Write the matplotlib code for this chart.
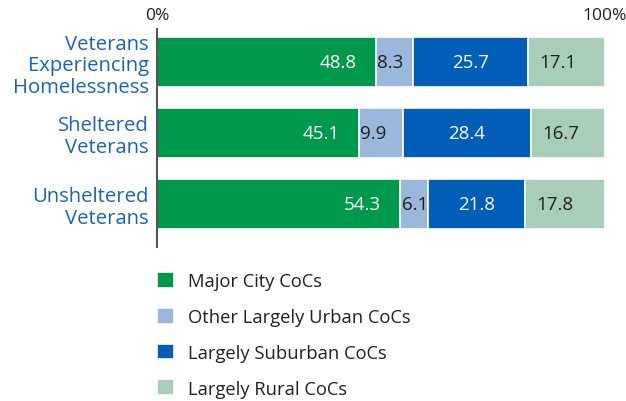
import matplotlib.pyplot as plt
import numpy as np

plt.rcParams['font.family'] = ['Open Sans', 'DejaVu Sans']

groups = ['Veterans\nExperiencing\nHomelessness', 'Sheltered\nVeterans', 'Unsheltered\nVeterans']
series = ['Major City CoCs', 'Other Largely Urban CoCs', 'Largely Suburban CoCs', 'Largely Rural CoCs']
major_city = [48.8, 45.1, 54.3]
other_urban = [8.3, 9.9, 6.1]
suburban = [25.7, 28.4, 21.8]
rural = [17.1, 16.7, 17.8]

colors = ['#00984a', '#9bb8dc', '#005eb8', '#a8cdb8']
text_colors = ['white', '#231f20', 'white', '#231f20']
# where each label sits inside its segment
aligns = ['right', 'left', 'center', 'left']

fig = plt.figure(figsize=(6.26, 4.02), dpi=100)
ax = fig.add_axes([157 / 626, 1 - 248 / 402, 448 / 626, 218 / 402])

y = np.arange(len(groups))
left = np.zeros(len(groups))
bars = []
for vals, c, tc, al in zip([major_city, other_urban, suburban, rural], colors, text_colors, aligns):
    vals = np.asarray(vals)
    b = ax.barh(y, vals, left=left, height=0.70, color=c, edgecolor='white', linewidth=1.2)
    bars.append(b)
    for yi, l, v in zip(y, left, vals):
        if al == 'right':
            xt = l + v - 4.3
        elif al == 'left':
            xt = l + (0.3 if v < 12 else 2.5)
        else:
            xt = l + v / 2
        ax.text(xt, yi, f'{v:.1f}', ha=al, va='center', color=tc, fontsize=13.5)
    left = left + vals

ax.set_xlim(0, 100)
ax.set_ylim(2.606, -0.465)
ax.set_yticks(y, groups, color='#1a63b8', fontsize=14.6, linespacing=1.13)
ax.set_xticks([0, 100], ['0%', '100%'], fontsize=12.5, color='#231f20')
ax.xaxis.tick_top()
ax.tick_params(length=0)
ax.tick_params(axis='y', pad=6)
ax.tick_params(axis='x', pad=4)
for s in ['top', 'right', 'bottom']:
    ax.spines[s].set_visible(False)
ax.spines['left'].set_color('#555555')
ax.spines['left'].set_linewidth(1.5)

fig.legend(bars, series, loc='upper left', bbox_to_anchor=(157 / 626, 1 - 273 / 402),
           frameon=False, fontsize=13.2, handlelength=0.95, handleheight=0.95,
           handletextpad=0.75, labelspacing=0.96, borderpad=0, borderaxespad=0,
           labelcolor='#231f20')

plt.savefig('out.png', dpi=100)
